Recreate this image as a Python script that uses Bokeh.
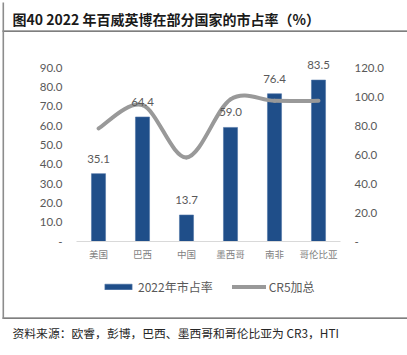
from bokeh.plotting import figure
from bokeh.models import (Range1d, LinearAxis, FixedTicker, CustomJSTickFormatter,
                          ColumnDataSource, Legend, LegendItem, Label, BoxAnnotation, LabelSet)
from bokeh.core.properties import value
from bokeh.embed import file_html
from bokeh.resources import INLINE

categories = ["美国", "巴西", "中国", "墨西哥", "南非", "哥伦比亚"]
share_2022 = [35.1, 64.4, 13.7, 59.0, 76.4, 83.5]
cr5_total = [78, 94, 58, 98, 97, 97]
left_ticks = [0, 10, 20, 30, 40, 50, 60, 70, 80, 90]
right_ticks = [0, 20, 40, 60, 80, 100, 120]

title_text = "图40 2022 年百威英博在部分国家的市占率（%）"
source_text = "资料来源：欧睿，彭博，巴西、墨西哥和哥伦比亚为 CR3，HTI"
bar_name = "2022年市占率"
line_name = "CR5加总"

BAR = "#1F4E89"
LINE = "#999999"
TXT = "#595959"
RULE = "#555555"
NUM_FONT = "Lato"
CJK = "Noto Sans CJK SC"

W, H = 407, 355
# plot-area geometry (pixels): category slots 44 px wide starting at x=76, value 0 at y=241
X0, SLOT, Y0 = 76, 44, 241
LPX, RPX = 174 / 90, 174 / 120   # px per unit, left / right axis

p = figure(width=W, height=H, output_backend="svg", toolbar_location=None,
           x_range=Range1d(-X0 / SLOT, (W - X0) / SLOT),
           y_range=Range1d(-(H - Y0) / LPX, Y0 / LPX),
           x_axis_location=None, y_axis_location=None, min_border=0,
           outline_line_color=None, background_fill_color="white", border_fill_color="white")
p.grid.visible = False
p.extra_y_ranges = {"r": Range1d(-(H - Y0) / RPX, Y0 / RPX), "px": Range1d(H, 0)}
p.extra_x_ranges = {"px": Range1d(0, W)}

ncat = len(categories)
xs = [i + 0.5 for i in range(ncat)]
fmt = CustomJSTickFormatter(code="return tick == 0 ? '-' : tick.toFixed(1);")

yl = LinearAxis(ticker=FixedTicker(ticks=left_ticks), formatter=fmt, fixed_location=0,
                axis_line_color=None, major_tick_line_color=None, minor_tick_line_color=None,
                major_tick_out=0, major_tick_in=0,
                major_label_text_font=NUM_FONT, major_label_text_font_size="11.5px",
                major_label_text_color=TXT, major_label_standoff=14)
p.add_layout(yl, "left")

yr = LinearAxis(y_range_name="r", ticker=FixedTicker(ticks=right_ticks), formatter=fmt,
                fixed_location=ncat,
                axis_line_color=None, major_tick_line_color=None, minor_tick_line_color=None,
                major_tick_out=0, major_tick_in=0,
                major_label_text_font=NUM_FONT, major_label_text_font_size="11.5px",
                major_label_text_color=TXT, major_label_standoff=14)
p.add_layout(yr, "right")

xa = LinearAxis(ticker=FixedTicker(ticks=xs), fixed_location=0, bounds=(0, ncat),
                formatter=CustomJSTickFormatter(args=dict(cats=categories),
                                                code="return cats[Math.round(tick - 0.5)];"),
                axis_line_color="#D9D9D9", axis_line_width=1,
                major_tick_line_color=None, minor_tick_line_color=None,
                major_tick_out=0, major_tick_in=0,
                major_label_text_font=CJK, major_label_text_font_size="9.5px",
                major_label_text_color="#7F7F7F", major_label_standoff=5)
p.add_layout(xa, "below")

src = ColumnDataSource(dict(x=xs, y=share_2022, lab=["%.1f" % v for v in share_2022]))
bars = p.vbar(x="x", top="y", width=0.32, source=src, fill_color=BAR, line_color="#4F74A6",
              line_width=0.6)

p.add_layout(LabelSet(x="x", y="y", text="lab", source=src, text_align="center",
                      text_baseline="middle", y_offset=15, text_font=value(NUM_FONT),
                      text_font_size="11.5px", text_color=TXT))

# smooth (Excel-like) line: cubic Bezier segments through the CR5 points
x0, y0, x1, y1, cx0, cy0, cx1, cy1 = [], [], [], [], [], [], [], []
for i in range(ncat - 1):
    pa = max(i - 1, 0)
    pb = min(i + 2, ncat - 1)
    x0.append(xs[i]); y0.append(cr5_total[i])
    x1.append(xs[i + 1]); y1.append(cr5_total[i + 1])
    cx0.append(xs[i] + (xs[i + 1] - xs[pa]) / 6.0)
    cy0.append(cr5_total[i] + (cr5_total[i + 1] - cr5_total[pa]) / 6.0)
    cx1.append(xs[i + 1] - (xs[pb] - xs[i]) / 6.0)
    cy1.append(cr5_total[i + 1] - (cr5_total[pb] - cr5_total[i]) / 6.0)
bsrc = ColumnDataSource(dict(x0=x0, y0=y0, x1=x1, y1=y1, cx0=cx0, cy0=cy0, cx1=cx1, cy1=cy1))
curve = p.bezier(x0="x0", y0="y0", x1="x1", y1="y1", cx0="cx0", cy0="cy0", cx1="cx1",
                 cy1="cy1", source=bsrc, line_color=LINE, line_width=4, line_cap="round",
                 y_range_name="r")

p.add_layout(Legend(items=[LegendItem(label=bar_name, renderers=[bars]),
                           LegendItem(label=line_name, renderers=[curve])],
                    orientation="horizontal", location=(101, 60),
                    label_text_font=CJK, label_text_font_size="12px", label_text_color=TXT,
                    glyph_width=34, glyph_height=7, spacing=19, label_standoff=3,
                    padding=0, margin=0, border_line_color=None, background_fill_alpha=0))

# report frame: title rule, bottom rule, left rule (pixel coordinates)
def rule(left, right, top, bottom, color):
    p.add_layout(BoxAnnotation(left=left, right=right, top=top, bottom=bottom,
                               x_range_name="px", y_range_name="px",
                               fill_color=color, fill_alpha=1, line_color=None))

rule(2, 407, 30, 31.3, RULE)
rule(2, 407, 317, 318.3, RULE)
rule(2, 3.6, 2, 318.3, "#8C8C8C")

p.add_layout(Label(x=12, y=18, x_range_name="px", y_range_name="px", text=title_text,
                   text_font=CJK, text_font_size="14px", text_font_style="bold",
                   text_color="#1A1A1A", text_baseline="middle", text_align="left"))
p.add_layout(Label(x=12, y=332, x_range_name="px", y_range_name="px", text=source_text,
                   text_font=CJK, text_font_size="11.8px", text_color="#262626",
                   text_baseline="middle", text_align="left"))

open("out.html", "w").write(file_html(p, INLINE))
